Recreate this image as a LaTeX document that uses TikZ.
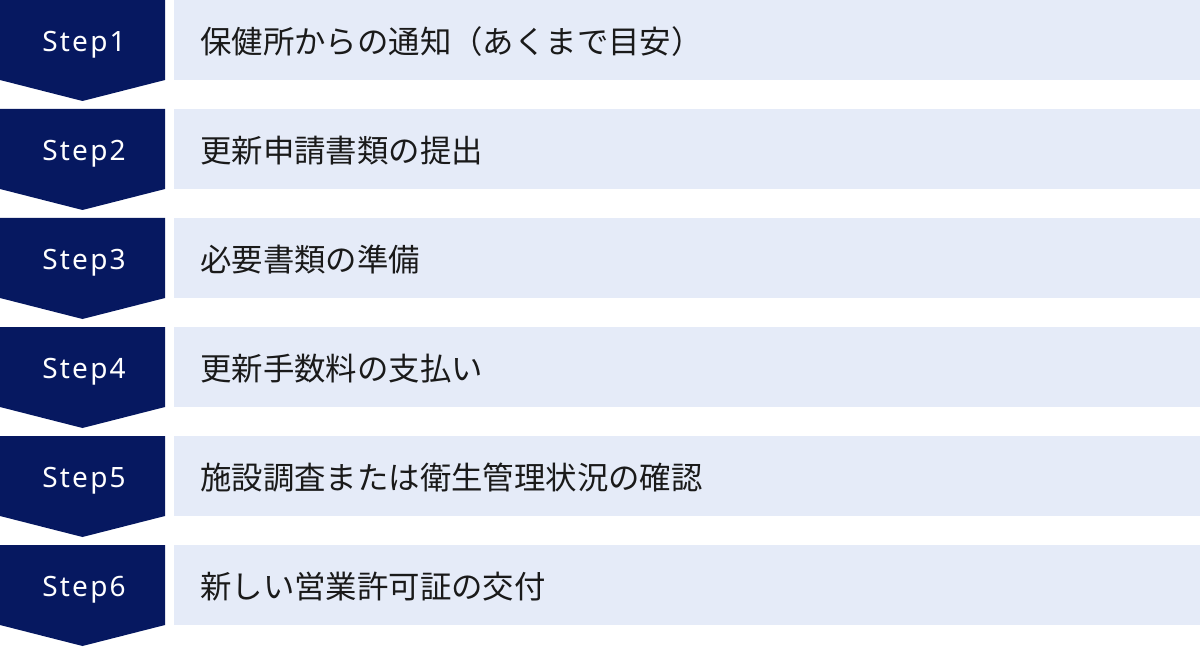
\documentclass[tikz,border=0pt]{standalone}
\usepackage{fontspec}
\setmainfont{Noto Sans}
\newfontfamily\stepfont[LetterSpace=8]{Noto Sans}
\newfontfamily\jp{Noto Sans CJK JP}
\definecolor{navy}{HTML}{061860}
\definecolor{pale}{HTML}{E5EBF8}
\definecolor{ink}{HTML}{1A1A1A}
\tikzset{
  chev/.style={fill=navy},
  band/.style={fill=pale},
  steplabel/.style={text=white,font=\stepfont\fontsize{28}{28}\selectfont,inner sep=0pt,anchor=base},
  steptext/.style={text=ink,font=\jp\fontsize{31.4}{31.4}\selectfont,inner sep=0pt,anchor=west}
}
\begin{document}
\begin{tikzpicture}[x=1pt,y=-1pt]
\useasboundingbox (0,0) rectangle (1200,647);
\foreach \i/\lab/\txt in {0/Step1/保健所からの通知（あくまで目安）,1/Step2/更新申請書類の提出,2/Step3/必要書類の準備,3/Step4/更新手数料の支払い,4/Step5/施設調査または衛生管理状況の確認,5/Step6/新しい営業許可証の交付}{
  \pgfmathsetmacro{\t}{109*\i}
  \fill[chev] (0,\t) -- (165,\t) -- (165,\t+80) -- (82.5,\t+101) -- (0,\t+80) -- cycle;
  \fill[band] (174,\t) rectangle (1200,\t+80);
  \node[steplabel] (s\i) at (84,\t+51.5) {\lab};
  \node[steptext] (t\i) at (200,\t+42) {\txt};
}
\end{tikzpicture}
\end{document}
